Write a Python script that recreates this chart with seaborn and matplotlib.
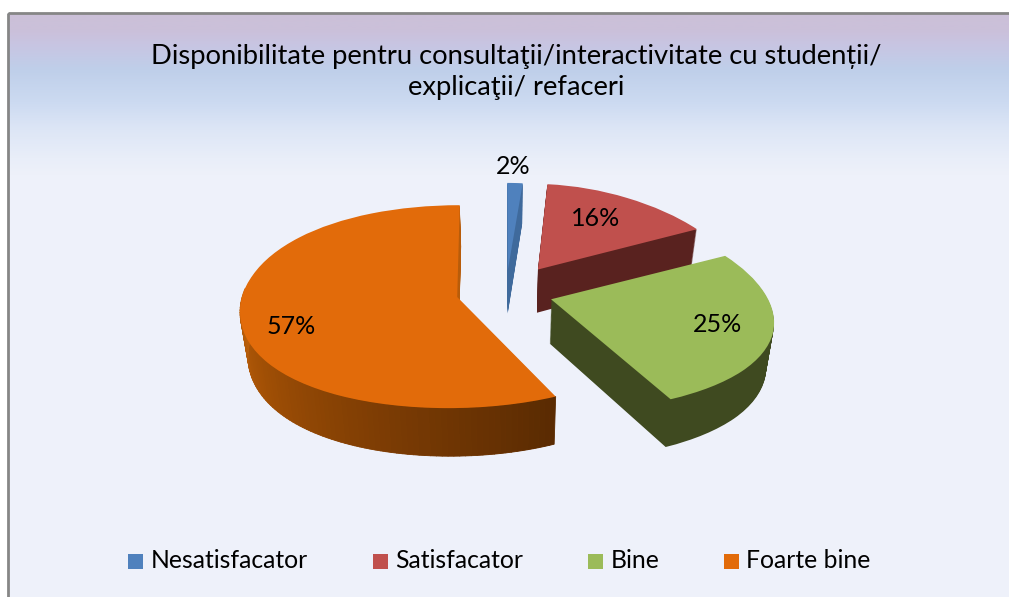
import numpy as np
import seaborn as sns
import matplotlib.pyplot as plt
import matplotlib.transforms as mtrans
from matplotlib.collections import PolyCollection
from matplotlib.colors import LinearSegmentedColormap
from matplotlib.patches import Rectangle

categories = ["Nesatisfacator", "Satisfacator", "Bine", "Foarte bine"]
values = [1.6, 16, 25.4, 57]
title = "Disponibilitate pentru consultaţii/interactivitate cu studenții/\nexplicaţii/ refaceri"

top_colors = ["#4f81bd", "#c0504d", "#9bbb59", "#e26b0a"]
side_colors = ["#3f6a9c", "#59221f", "#3f4a20", "#b85c0a"]
explode = [0.222, 0.28, 0.222, 0.23]
radii = [1, 0.98, 1, 1]
lean = [(0.3, 0.15), (0.25, 0.15), (0.21, 0.18), (0.05, 0.15)]
label_xy = [(513, 166), (596, 218), (717, 324), (291, 326)]
legend_x = [128, 373, 588, 724]

sns.set_theme(style="white")
plt.rcParams["font.family"] = ["Lato", "Noto Sans", "DejaVu Sans"]

CX, CY = 505.5, 292


class Tilt(mtrans.Transform):
    # turns the flat pie into a tilted one seen in perspective
    input_dims = 2
    output_dims = 2

    def __init__(self, far, near):
        super().__init__()
        self.a = (far + near) / 2
        self.b = (far - near) / 2

    def transform_non_affine(self, xy):
        xy = np.asarray(xy, dtype=float)
        wx = 1 + self.a * xy[:, 1] + self.b * xy[:, 1] ** 2
        wy = 1 + 0.0945 * xy[:, 1]
        return np.column_stack((CX + 214 * xy[:, 0] / wx, CY - 99.6 * xy[:, 1] / wy))


def lower(f):
    # bottom face of the pie: narrower in x, taller in y, moved down
    return (mtrans.Affine2D().translate(-CX, -CY).scale(1 - 0.03 * f, 1 + 0.035 * f)
            .translate(CX, CY + 44 * f))


fig, ax = plt.subplots(figsize=(10.09, 5.97), dpi=100)
ax.set_position([0, 0, 1, 1])
tilts = [Tilt(*p) for p in lean]
depth = 50

for z in range(depth, -1, -1):
    f = z / depth
    colors = top_colors if z == 0 else side_colors
    wedges, _ = ax.pie(values, colors=colors, explode=explode, startangle=90, counterclock=False,
                       wedgeprops=dict(linewidth=0))
    for i, w in enumerate(wedges):
        w.set_radius(radii[i])
        w.set_transform(tilts[i] + lower(f) + ax.transData)
        w.set_zorder(2 + i + 0.5 * (1 - f))
        w.set_clip_on(False)

ax.set_aspect("auto")
ax.axis("off")

# background and frame
bg = LinearSegmentedColormap.from_list("bg", [(0, "#cbc0d8"), (0.1, "#cbc0da"), (0.19, "#c8c5e2"), (0.35, "#bfcfea"),
                                              (0.55, "#ccdaf1"), (0.72, "#dde6f6"), (0.9, "#e9eef9"), (1, "#eef1fa")])
ax.imshow(np.linspace(0, 1, 200).reshape(-1, 1), cmap=bg, extent=(8, 1009, 175, 13), aspect="auto", zorder=0)
ax.add_patch(Rectangle((8, 175), 1001, 430, color="#eef1fa", zorder=0, lw=0))
ax.add_patch(Rectangle((8, 13), 1010, 600, fill=False, edgecolor="#868686", lw=2, zorder=1))
ax.set_xlim(0, 1009)
ax.set_ylim(597, 0)

# outer wall of the big slice shades from orange to brown
done = 3.6 * sum(values[:3])
angles = np.linspace(np.deg2rad(90 - done), np.deg2rad(-185), 90)
mid = np.deg2rad(90 - done - 1.8 * values[3])
shift = explode[3] * np.array([np.cos(mid), np.sin(mid)])
rim = tilts[3].transform(np.column_stack((np.cos(angles) + shift[0], np.sin(angles) + shift[1])))
rim_low = lower(1).transform(rim)
shades = sns.blend_palette(["#5a2b02", "#7c3c04", "#a04f05", "#c0620b"], 89)
quads = [[rim[i], rim[i + 1], rim_low[i + 1], rim_low[i]] for i in range(89)]
ax.add_collection(PolyCollection(quads, facecolors=shades, edgecolors=shades, linewidths=0.6, zorder=5.495))

for xy, v in zip(label_xy, values):
    ax.text(xy[0], xy[1], f"{v:.0f}%", fontsize=18, color="black", ha="center", va="center", zorder=10)

ax.text(516, 72, title, fontsize=19.7, color="black", ha="center", va="center", linespacing=1.3, zorder=10)

for x, name, c in zip(legend_x, categories, top_colors):
    ax.add_patch(Rectangle((x, 554), 15, 15, color=c, lw=0, zorder=10))
    ax.text(x + 22.5, 561, name, fontsize=17.8, color="black", ha="left", va="center", zorder=10)

fig.savefig("out.png", dpi=100)
